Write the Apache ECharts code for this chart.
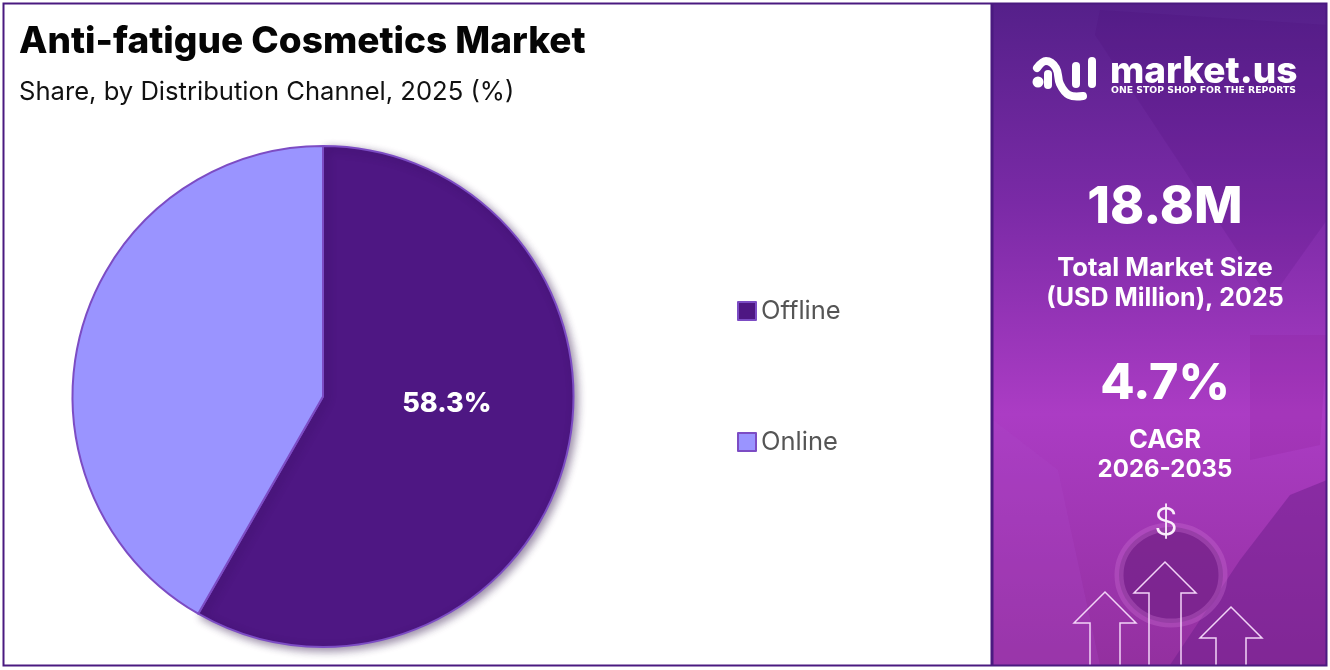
<!DOCTYPE html>
<html>
<head>
<meta charset="utf-8">
<title>Anti-fatigue Cosmetics Market</title>
<style>
  html, body { margin: 0; padding: 0; background: #fff; }
  #chart { width: 1330px; height: 670px; }
</style>
<script src="https://cdn.jsdelivr.net/npm/echarts@6/dist/echarts.min.js"></script>
</head>
<body>
<div id="chart"></div>
<script>
const channels = ['Offline', 'Online'];
const shares = [58.3, 41.7];
const channelColors = ['#4e1783', '#9a94ff'];

const chart = echarts.init(document.getElementById('chart'));
const font = 'Inter, "Noto Sans", sans-serif';
const edge = '#7c4cc4';
const frame = '#4a1a80';

// side panel text
function panelText(text, y, size, weight, shadow) {
  return {
    type: 'text', z: 20, x: 1165, y: y,
    style: {
      text: text, fill: '#fff', font: weight + ' ' + size + 'px ' + font,
      align: 'center', verticalAlign: 'middle',
      shadowBlur: shadow ? 6 : 0, shadowColor: 'rgba(40,0,70,0.6)', shadowOffsetX: 2, shadowOffsetY: 2
    }
  };
}

function arrow(cx, tipY, half, shaft) {
  const headY = tipY + half;
  return {
    type: 'polyline', z: 15,
    shape: { points: [[cx - shaft, 665], [cx - shaft, headY], [cx - half, headY], [cx, tipY], [cx + half, headY], [cx + shaft, headY], [cx + shaft, 665]] },
    style: { fill: 'none', stroke: '#f2d4f7', lineWidth: 1.5 }
  };
}

const logoLine = { fill: 'none', stroke: '#fff', lineWidth: 8, lineCap: 'round', lineJoin: 'round' };

chart.setOption({
  animation: false,
  backgroundColor: '#fff',
  title: [
    { text: 'Anti-fatigue Cosmetics Market', left: 14, top: 18, textStyle: { fontFamily: font, fontSize: 37, fontWeight: 800, color: '#050505' } },
    { text: 'Share, by Distribution Channel, 2025 (%)', left: 14, top: 74, textStyle: { fontFamily: font, fontSize: 25.6, fontWeight: 400, color: '#111' } }
  ],
  legend: {
    orient: 'vertical', left: 732, top: 293, itemWidth: 18, itemHeight: 18, itemGap: 105,
    icon: 'rect',
    data: channels,
    textStyle: { fontFamily: font, fontSize: 25.5, color: '#555' },
    itemStyle: { borderColor: edge, borderWidth: 2 }
  },
  series: [{
    type: 'pie',
    center: [323, 396.5],
    radius: [0, 250.5],
    startAngle: 90,
    clockwise: true,
    silent: true,
    itemStyle: { borderColor: edge, borderWidth: 2 },
    labelLine: { show: false },
    data: channels.map((name, i) => ({
      name: name,
      value: shares[i],
      itemStyle: i === 0
        ? { color: channelColors[i], shadowBlur: 8, shadowColor: 'rgba(30,0,60,0.45)', shadowOffsetX: 3, shadowOffsetY: 3 }
        : { color: channelColors[i] },
      label: i === 0
        ? { show: true, position: 'inside', offset: [0, -26], formatter: '{c}%', fontFamily: font, fontSize: 27, fontWeight: 800, color: '#fff' }
        : { show: false }
    }))
  }],
  graphic: [
    {
      type: 'rect', z: 1, shape: { x: 993, y: 4, width: 334, height: 661 },
      style: {
        fill: new echarts.graphic.LinearGradient(0, 0, 0, 1, [
          { offset: 0, color: '#55208a' },
          { offset: 0.3, color: '#7a2aa6' },
          { offset: 0.62, color: '#ab3cc4' },
          { offset: 1, color: '#93309f' }
        ])
      }
    },
    // faint background shapes of the photo
    { type: 'polygon', z: 2, shape: { points: [[1100, 10], [1327, 25], [1327, 220], [1270, 300], [1095, 35]] }, style: { fill: 'rgba(70,10,110,0.14)' } },
    { type: 'polygon', z: 2, shape: { points: [[1250, 335], [1327, 335], [1320, 445], [1250, 460]] }, style: { fill: 'rgba(140,30,150,0.2)' } },
    { type: 'polygon', z: 2, shape: { points: [[1170, 665], [1240, 560], [1290, 495], [1327, 480], [1327, 665]] }, style: { fill: 'rgba(110,30,140,0.5)' } },
    { type: 'ellipse', z: 3, shape: { cx: 1171, cy: 575, rx: 52, ry: 48 }, style: { fill: 'rgba(120,35,140,0.85)', stroke: 'rgba(200,110,210,0.35)', lineWidth: 9 } },
    { type: 'polygon', z: 2, shape: { points: [[993, 420], [1058, 470], [1100, 665], [993, 665]] }, style: { fill: 'rgba(170,70,200,0.25)' } },

    // logo
    { type: 'circle', z: 20, shape: { cx: 1038, cy: 82, r: 5.5 }, style: { fill: '#fff' } },
    { type: 'polyline', z: 20, shape: { points: [[1037, 68], [1046, 61], [1056, 68], [1060, 84], [1069, 95], [1083, 96]], smooth: 0.4 }, style: logoLine },
    { type: 'line', z: 20, shape: { x1: 1048, y1: 74, x2: 1048, y2: 85 }, style: logoLine },
    { type: 'line', z: 20, shape: { x1: 1076, y1: 66, x2: 1076, y2: 84 }, style: logoLine },
    { type: 'line', z: 20, shape: { x1: 1092, y1: 61, x2: 1092, y2: 84 }, style: logoLine },
    { type: 'text', z: 20, x: 1110, y: 72, style: { text: 'market.us', fill: '#fff', font: '800 37px ' + font, align: 'left', verticalAlign: 'middle' } },
    { type: 'text', z: 20, x: 1111, y: 91, style: { text: 'ONE STOP SHOP FOR THE REPORTS', fill: '#fff', font: '700 9.3px "DejaVu Sans", sans-serif', align: 'left', verticalAlign: 'middle' } },

    panelText('18.8M', 208, 51.5, 800, true),
    panelText('Total Market Size', 268, 25.6, 700, false),
    panelText('(USD Million), 2025', 298, 25, 700, false),
    panelText('4.7%', 384, 50, 800, true),
    panelText('CAGR', 440, 25.5, 700, false),
    panelText('2026-2035', 470, 24, 700, false),
    { type: 'text', z: 20, x: 1166, y: 524, style: { text: '$', fill: '#fbeefc', font: '300 38px ' + font, align: 'center', verticalAlign: 'middle' } },

    arrow(1105, 592, 31, 15),
    arrow(1165, 562, 31, 16),
    arrow(1231, 607, 31, 15),

    // frame
    { type: 'rect', z: 30, shape: { x: 3.5, y: 3.5, width: 1323, height: 662 }, style: { fill: 'none', stroke: frame, lineWidth: 2 } },
    { type: 'line', z: 30, shape: { x1: 992, y1: 4, x2: 992, y2: 665 }, style: { stroke: frame, lineWidth: 3 } }
  ]
});
</script>
</body>
</html>
